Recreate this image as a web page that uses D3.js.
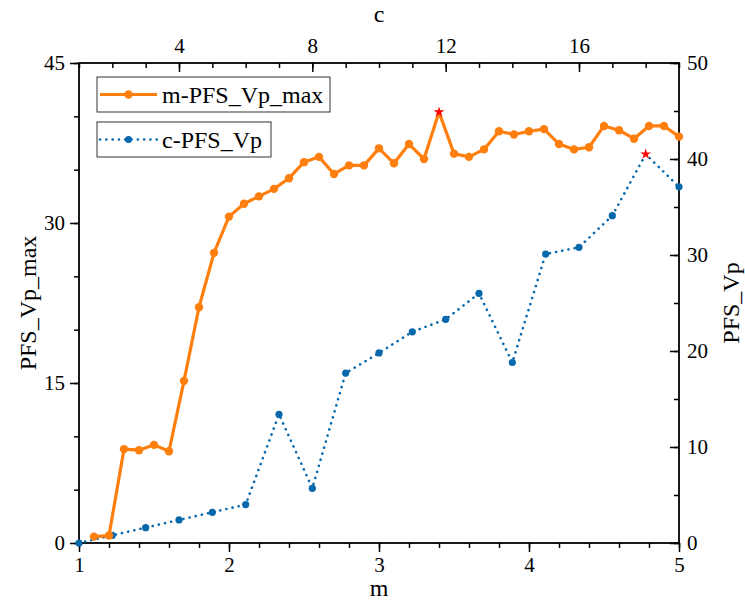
<!DOCTYPE html>
<html>
<head>
<meta charset="utf-8">
<script src="https://d3js.org/d3.v7.min.js"></script>
<style>
  body { margin: 0; background: #fff; }
  svg text { font-family: "Liberation Serif", Tinos, "Times New Roman", "DejaVu Serif", serif; fill: #000; }
</style>
</head>
<body>
<svg class="chart" width="745" height="605"></svg>
<script>
// m axis (bottom) vs PFS_Vp_max (left)
var mValues = [1.1, 1.2, 1.3, 1.4, 1.5, 1.6, 1.7, 1.8, 1.9, 2.0,
               2.1, 2.2, 2.3, 2.4, 2.5, 2.6, 2.7, 2.8, 2.9, 3.0,
               3.1, 3.2, 3.3, 3.4, 3.5, 3.6, 3.7, 3.8, 3.9, 4.0,
               4.1, 4.2, 4.3, 4.4, 4.5, 4.6, 4.7, 4.8, 4.9, 5.0];
var vpMax = [0.6, 0.7, 8.8, 8.7, 9.2, 8.6, 15.2, 22.1, 27.2, 30.6,
             31.8, 32.5, 33.2, 34.2, 35.7, 36.2, 34.6, 35.4, 35.4, 37.0,
             35.6, 37.4, 36.0, 40.4, 36.5, 36.2, 36.9, 38.6, 38.3, 38.6,
             38.8, 37.4, 36.9, 37.1, 39.1, 38.7, 37.9, 39.1, 39.1, 38.1];

// c axis (top) vs PFS_Vp (right)
var cValues = [1, 2, 3, 4, 5, 6, 7, 8, 9, 10, 11, 12, 13, 14, 15, 16, 17, 18, 19];
var vp = [0, 0.8, 1.6, 2.4, 3.2, 4.0, 13.4, 5.7, 17.7, 19.8,
          22.0, 23.3, 26.0, 18.8, 30.1, 30.8, 34.1, 40.5, 37.1];

var mTicks = [1, 2, 3, 4, 5];
var cTicks = [4, 8, 12, 16];
var leftTicks = [0, 15, 30, 45];
var rightTicks = [0, 10, 20, 30, 40, 50];

var seriesNames = ["m-PFS_Vp_max", "c-PFS_Vp"];
var orange = "#ff7f0e", blue = "#0868ac";
var serif = "'Liberation Serif', Tinos, 'Times New Roman', 'DejaVu Serif', serif";

var svg = d3.select(".chart"),
    width = +svg.attr("width"),
    height = +svg.attr("height"),
    margin = {top: 63, right: 66, bottom: 62, left: 79},
    w = width - margin.left - margin.right,
    h = height - margin.top - margin.bottom,
    g = svg.append("g").attr("transform", "translate(" + margin.left + "," + margin.top + ")");

var x = d3.scaleLinear().domain([1, 5]).range([0, w]);
var xTop = d3.scaleLinear().domain([1, 19]).range([0, w]);
var y = d3.scaleLinear().domain([0, 45]).range([h, 0]);
var yRight = d3.scaleLinear().domain([0, 50]).range([h, 0]);

function cleanAxis(sel, size) {
  sel.attr("font-family", serif);
  sel.select(".domain").remove();
  sel.selectAll("line").attr("stroke", "#000").attr("stroke-width", 1.5);
  sel.selectAll("text").style("font-size", size + "px").style("font-family", serif).attr("fill", "#000");
}

// minor ticks
g.append("g").attr("transform", "translate(0," + h + ")")
  .call(d3.axisBottom(x).tickValues(d3.range(1, 5.01, 0.2)).tickSize(5).tickFormat(""))
  .call(cleanAxis, 21);
g.append("g")
  .call(d3.axisTop(xTop).tickValues(cValues).tickSize(-5).tickFormat(""))
  .call(cleanAxis, 21);
g.append("g")
  .call(d3.axisLeft(y).tickValues(d3.range(0, 46, 5)).tickSize(5).tickFormat(""))
  .call(cleanAxis, 21);
g.append("g").attr("transform", "translate(" + w + ",0)")
  .call(d3.axisRight(yRight).tickValues(d3.range(0, 51, 5)).tickSize(-5).tickFormat(""))
  .call(cleanAxis, 21);

// major ticks
g.append("g").attr("transform", "translate(0," + h + ")")
  .call(d3.axisBottom(x).tickValues(mTicks).tickSize(9).tickPadding(5).tickFormat(d3.format("d")))
  .call(cleanAxis, 21);
g.append("g")
  .call(d3.axisTop(xTop).tickValues(cTicks).tickSize(-9).tickPadding(10).tickFormat(d3.format("d")))
  .call(cleanAxis, 21);
g.append("g")
  .call(d3.axisLeft(y).tickValues(leftTicks).tickSize(9).tickPadding(5).tickFormat(d3.format("d")))
  .call(cleanAxis, 21);
g.append("g").attr("transform", "translate(" + w + ",0)")
  .call(d3.axisRight(yRight).tickValues(rightTicks).tickSize(-9).tickPadding(8).tickFormat(d3.format("d")))
  .call(cleanAxis, 21);

// frame
g.append("rect")
  .attr("width", w).attr("height", h)
  .attr("fill", "none").attr("stroke", "#000").attr("stroke-width", 1.8);

// axis titles
function title(sel) { return sel.style("font-size", "24px").style("font-family", serif).attr("text-anchor", "middle"); }
svg.append("text").attr("x", margin.left + w / 2).attr("y", 596).call(title).text("m");
svg.append("text").attr("x", margin.left + w / 2).attr("y", 22).call(title).text("c");
svg.append("text").attr("transform", "translate(36," + (margin.top + h / 2) + ") rotate(-90)")
  .call(title).text("PFS_Vp_max");
svg.append("text").attr("transform", "translate(739," + (margin.top + h / 2) + ") rotate(-90)")
  .call(title).text("PFS_Vp");

// series data
var orangeData = mValues.map(function(m, i) { return {x: x(m), y: y(vpMax[i]), v: vpMax[i]}; });
var blueData = cValues.map(function(c, i) { return {x: xTop(c), y: yRight(vp[i]), v: vp[i]}; });
var orangeMax = d3.max(vpMax), blueMax = d3.max(vp);

var line = d3.line().x(function(d) { return d.x; }).y(function(d) { return d.y; });

g.append("path").datum(blueData)
  .attr("d", line).attr("fill", "none")
  .attr("stroke", blue).attr("stroke-width", 2.6)
  .attr("stroke-linecap", "round").attr("stroke-dasharray", "0.1,6.2");

g.selectAll(".bdot").data(blueData.filter(function(d) { return d.v !== blueMax; }))
  .enter().append("circle").attr("class", "bdot")
  .attr("cx", function(d) { return d.x; }).attr("cy", function(d) { return d.y; })
  .attr("r", 3.6).attr("fill", blue);

g.append("path").datum(orangeData)
  .attr("d", line).attr("fill", "none")
  .attr("stroke", orange).attr("stroke-width", 3.2).attr("stroke-linejoin", "round");

g.selectAll(".odot").data(orangeData.filter(function(d) { return d.v !== orangeMax; }))
  .enter().append("circle").attr("class", "odot")
  .attr("cx", function(d) { return d.x; }).attr("cy", function(d) { return d.y; })
  .attr("r", 4.2).attr("fill", orange);

// red stars at the maxima
var star = d3.symbol().type(d3.symbolStar).size(36);
var peaks = orangeData.filter(function(d) { return d.v === orangeMax; })
  .concat(blueData.filter(function(d) { return d.v === blueMax; }));
g.selectAll(".peak").data(peaks)
  .enter().append("path").attr("class", "peak")
  .attr("d", star)
  .attr("transform", function(d) { return "translate(" + d.x + "," + d.y + ")"; })
  .attr("fill", "#ff0000");

// legends (two separate boxes)
var legendBoxes = [
  {name: seriesNames[0], color: orange, y: 77, w: 233, dotted: false},
  {name: seriesNames[1], color: blue, y: 122, w: 174, dotted: true}
];
var leg = svg.selectAll(".legend").data(legendBoxes)
  .enter().append("g").attr("class", "legend")
  .attr("transform", function(d) { return "translate(97," + d.y + ")"; });

leg.append("rect").attr("width", function(d) { return d.w; }).attr("height", 35)
  .attr("fill", "#fff").attr("stroke", "#333").attr("stroke-width", 1);
leg.append("line").attr("x1", 3).attr("x2", 60).attr("y1", 17.5).attr("y2", 17.5)
  .attr("stroke", function(d) { return d.color; })
  .attr("stroke-width", function(d) { return d.dotted ? 2.6 : 3.2; })
  .attr("stroke-linecap", function(d) { return d.dotted ? "round" : "butt"; })
  .attr("stroke-dasharray", function(d) { return d.dotted ? "0.1,6.2" : null; });
leg.append("circle").attr("cx", 31.5).attr("cy", 17.5)
  .attr("r", function(d) { return d.dotted ? 3.6 : 4.2; })
  .attr("fill", function(d) { return d.color; });
leg.append("text").attr("x", 65).attr("y", 26)
  .style("font-size", "24px").style("font-family", serif).text(function(d) { return d.name; });
</script>
</body>
</html>
